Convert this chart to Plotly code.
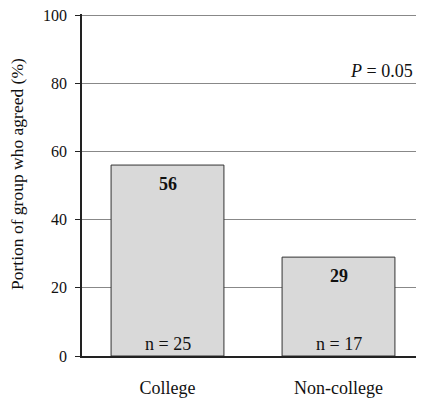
import plotly.graph_objects as go

categories = ["College", "Non-college"]
values = [56, 29]
n_labels = ["n = 25", "n = 17"]
y_ticks = [0, 20, 40, 60, 80, 100]
p_text = "<i>P</i> = 0.05"
y_title = "Portion of group who agreed (%)"

FONT = "Liberation Serif"

fig = go.Figure()
fig.add_trace(go.Bar(
    x=categories, y=values,
    marker=dict(color="#d9d9d9", line=dict(color="#333333", width=1)),
    width=0.66, showlegend=False, hoverinfo="skip",
))

for c, v, n in zip(categories, values, n_labels):
    fig.add_annotation(x=c, y=v, text=f"<b>{v}</b>", showarrow=False,
                       yanchor="top", yshift=-7,
                       font=dict(family=FONT, size=18, color="#111"))
    fig.add_annotation(x=c, y=0, text=n, showarrow=False,
                       yanchor="bottom", yshift=0,
                       font=dict(family=FONT, size=18, color="#111"))

fig.add_annotation(x=1.5, y=83.5, xref="x", yref="y", text=p_text,
                   showarrow=False, xanchor="right", xshift=-9,
                   font=dict(family=FONT, size=18, color="#111"))

fig.add_annotation(x=0, y=0.5, xref="paper", yref="paper", text=y_title,
                   textangle=-90, showarrow=False, xanchor="center",
                   yanchor="middle", xshift=-65, yshift=11,
                   font=dict(family=FONT, size=17.5, color="#111"))

# page body has an 8px margin, so the figure is sized to fit inside it
fig.update_layout(
    width=416, height=391,
    margin=dict(l=74, r=0, t=6, b=43),
    paper_bgcolor="white", plot_bgcolor="white",
    font=dict(family=FONT, color="#111"),
)
fig.update_xaxes(
    range=[-0.5, 1.5], showgrid=False, showline=True, linecolor="#222",
    linewidth=1.5, ticks="", tickfont=dict(size=18), ticklabelstandoff=15,
    zeroline=False,
)
fig.update_yaxes(
    range=[0, 100.3], tickvals=y_ticks, showgrid=True, gridcolor="#888",
    gridwidth=1, showline=True, linecolor="#222", linewidth=1.5,
    ticks="outside", ticklen=5, tickcolor="#222", tickfont=dict(size=16),
    ticklabelstandoff=5, zeroline=False, ticklabeloverflow="allow",
    automargin=False,
)

fig.write_html("out.html")
